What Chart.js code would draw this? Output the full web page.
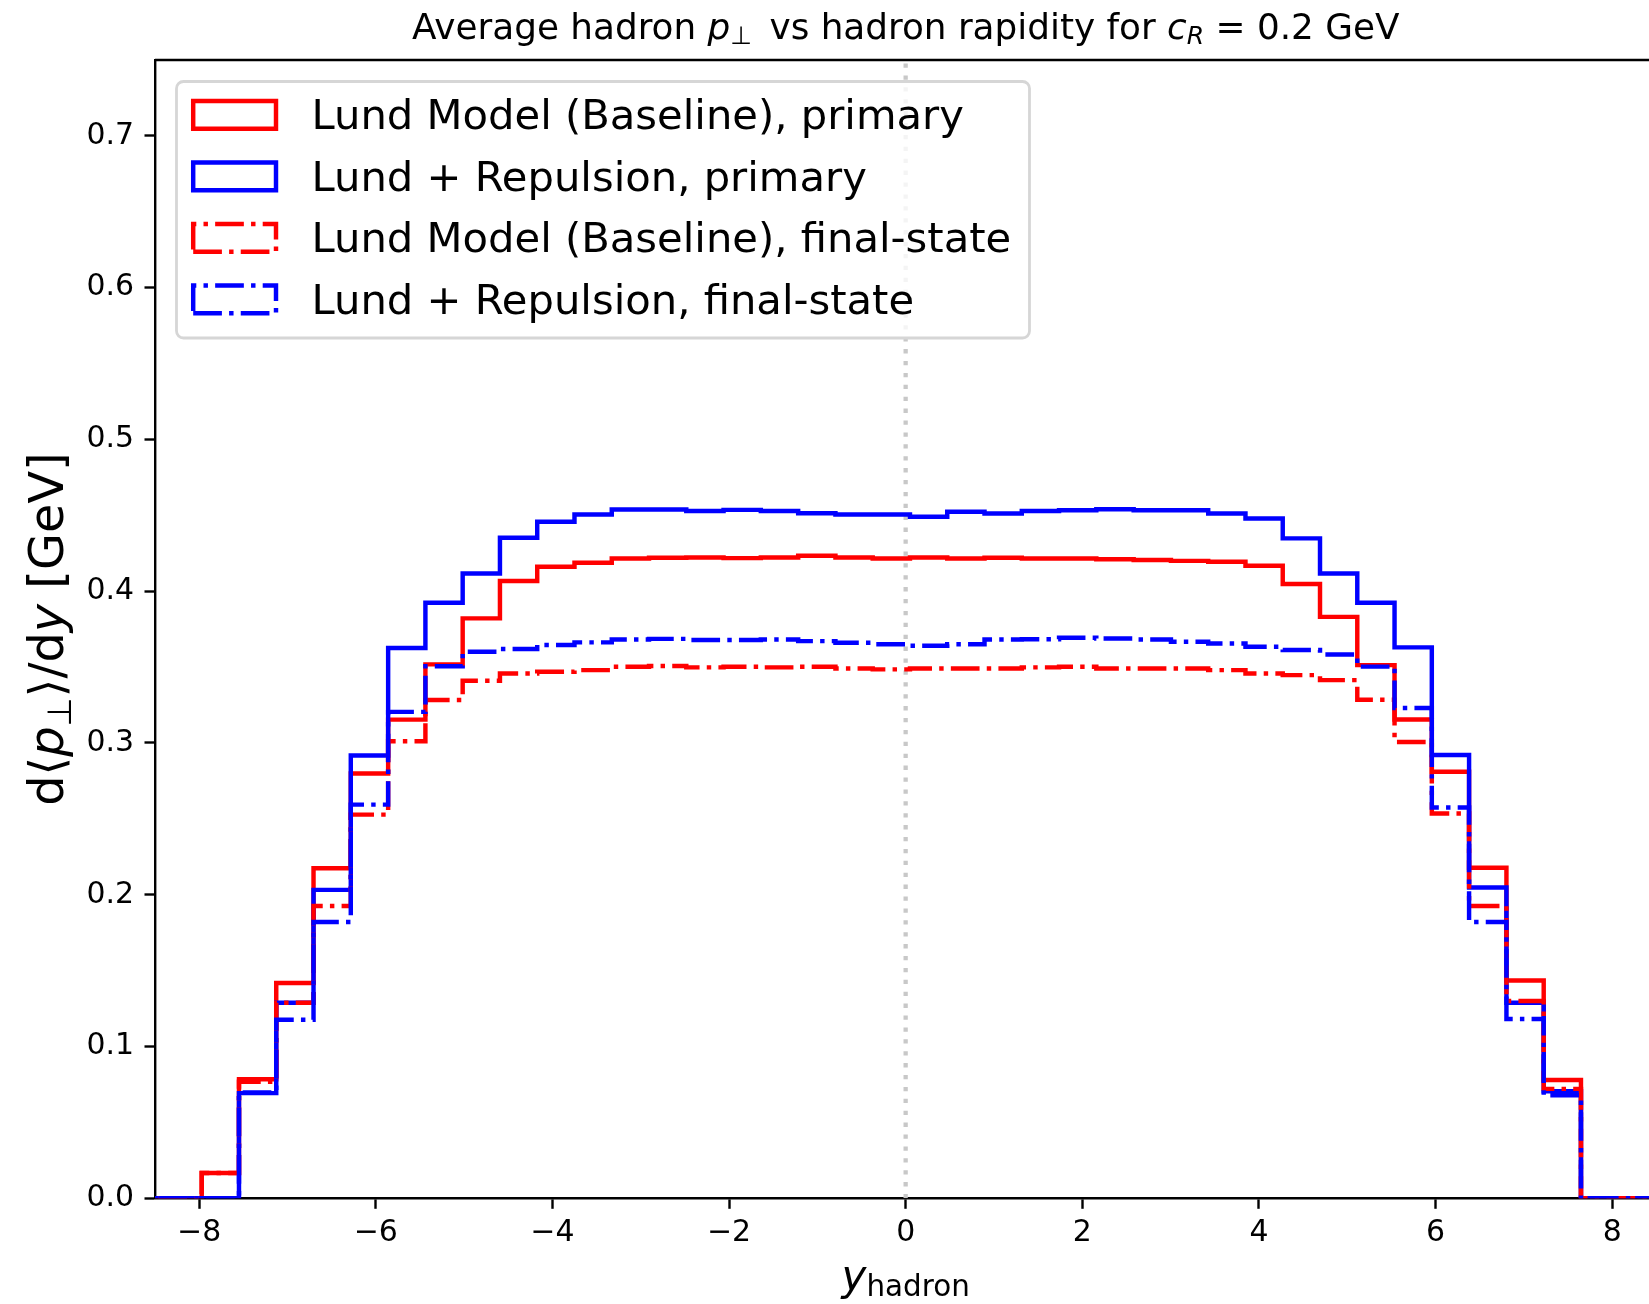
<!DOCTYPE html>
<html><head><meta charset="utf-8">
<script src="https://cdn.jsdelivr.net/npm/chart.js@4.4.1/dist/chart.umd.min.js"></script>
<style>
html,body{margin:0;padding:0;overflow:hidden;background:#fff;width:1649px;height:1304px;}
#wrap{position:relative;width:1700px;height:1304px;}
canvas{position:absolute;left:0;top:0;}
svg{position:absolute;left:0;top:0;pointer-events:none;}
text{white-space:pre;}
</style></head><body>
<div id="wrap">
<canvas id="c" width="1700" height="1304"></canvas>
<svg id="ov" width="1700" height="1304" font-family="DejaVu Sans" fill="#000">
<text x="905.7" y="38.5" text-anchor="middle" font-size="35.8">Average hadron <tspan font-style="italic">p</tspan><tspan font-size="25" dy="5.5">⊥</tspan><tspan dy="-5.5" dx="6"> vs hadron rapidity for </tspan><tspan font-style="italic">c</tspan><tspan font-style="italic" font-size="25" dy="5.5">R</tspan><tspan dy="-5.5"> = 0.2 GeV</tspan></text>
<text transform="translate(63,629) rotate(-90)" text-anchor="middle" font-size="47.8">d⟨<tspan font-style="italic">p</tspan><tspan font-size="33.5" dy="7.5">⊥</tspan><tspan dy="-7.5">⟩/d</tspan><tspan font-style="italic">y</tspan> [GeV]</text>
<text x="905.7" y="1290" text-anchor="middle" font-size="42"><tspan font-style="italic">y</tspan><tspan font-size="29.4" dy="6">hadron</tspan></text>
<g id="legend"></g>
</svg>
</div>
<script>
// ---- data ----
const binEdges = [-7.971,-7.549,-7.127,-6.705,-6.283,-5.860,-5.438,-5.016,-4.594,-4.172,-3.750,-3.328,-2.906,-2.484,-2.062,-1.640,-1.217,-0.795,-0.373,0.049,0.471,0.893,1.315,1.737,2.159,2.582,3.004,3.426,3.848,4.270,4.692,5.114,5.536,5.958,6.380,6.803,7.225,7.647];
const redPrimary = [0.0167,0.0785,0.1418,0.2174,0.2799,0.3154,0.3518,0.3821,0.4067,0.4161,0.4187,0.4216,0.4220,0.4222,0.4218,0.4222,0.4233,0.4222,0.4216,0.4222,0.4216,0.4220,0.4216,0.4216,0.4211,0.4205,0.4200,0.4194,0.4168,0.4047,0.3831,0.3513,0.3155,0.2811,0.2178,0.1435,0.0780];
const bluePrimary = [0,0.0693,0.1288,0.2032,0.2917,0.3626,0.3924,0.4117,0.4352,0.4457,0.4506,0.4539,0.4539,0.4529,0.4536,0.4528,0.4513,0.4506,0.4506,0.4490,0.4523,0.4512,0.4528,0.4534,0.4540,0.4534,0.4534,0.4512,0.4479,0.4348,0.4117,0.3924,0.3630,0.2921,0.2048,0.1288,0.0705];
const redFinal = [0.0167,0.0768,0.1288,0.1926,0.2528,0.3012,0.3283,0.3410,0.3458,0.3469,0.3480,0.3502,0.3507,0.3498,0.3502,0.3498,0.3502,0.3491,0.3485,0.3491,0.3491,0.3491,0.3498,0.3502,0.3491,0.3491,0.3491,0.3480,0.3458,0.3447,0.3414,0.3285,0.3006,0.2535,0.1926,0.1300,0.0721];
const blueFinal = [0,0.0698,0.1177,0.1820,0.2594,0.3205,0.3505,0.3601,0.3619,0.3646,0.3663,0.3682,0.3686,0.3678,0.3678,0.3682,0.3671,0.3660,0.3651,0.3640,0.3651,0.3682,0.3684,0.3693,0.3688,0.3682,0.3667,0.3656,0.3634,0.3612,0.3583,0.3503,0.3230,0.2575,0.1820,0.1182,0.0679];
const seriesLabels = ['Lund Model (Baseline), primary','Lund + Repulsion, primary','Lund Model (Baseline), final-state','Lund + Repulsion, final-state'];
const xTicks = [-8,-6,-4,-2,0,2,4,6,8];
const yTicks = [0.0,0.1,0.2,0.3,0.4,0.5,0.6,0.7];
const xLimits = [-8.5, 8.5];
const yLimits = [0, 0.75];
const histRange = [-9, 9];
const refLineX = 0;

// ---- styles ----
const LW = 4.45;
const DASHDOT = [28.7, 7.2, 4.45, 7.2];
const RED = '#ff0000', BLUE = '#0000ff';

function stepPoints(values){
  const pts = [{x: histRange[0], y: 0}];
  values.forEach((v, i) => pts.push({x: binEdges[i], y: v}));
  pts.push({x: binEdges[binEdges.length - 1], y: 0});
  pts.push({x: histRange[1], y: 0});
  return pts;
}
function histDataset(label, values, color, dashed, order){
  return {label, data: stepPoints(values), borderColor: color, borderWidth: LW,
    borderDash: dashed ? DASHDOT : [], stepped: 'before', pointRadius: 0, fill: false,
    borderJoinStyle: 'miter', borderCapStyle: 'butt', order};
}

const CANVAS_H = 1304, CANVAS_W = 1700;
const PLOT_LEFT = 155, PLOT_TOP = 60, PLOT_RIGHT = 1656.3, PLOT_BOTTOM = 1198.3;
const SPINE_W = 2.4, TICK_LEN = 10.5;

const framePlugin = {
  id: 'frame',
  afterDraw(chart){
    const {ctx, chartArea: a} = chart;
    ctx.save();
    ctx.strokeStyle = '#000'; ctx.lineWidth = SPINE_W;
    ctx.beginPath();
    ctx.moveTo(a.left, a.top); ctx.lineTo(a.right, a.top); ctx.lineTo(a.right, a.bottom);
    ctx.stroke();
    ctx.restore();
  }
};

const tickFont = {family: 'DejaVu Sans', size: 29.9};

new Chart(document.getElementById('c'), {
  type: 'line',
  data: {datasets: [
    {label: 'ref', data: [{x: refLineX, y: yLimits[0]}, {x: refLineX, y: yLimits[1]}], borderColor: '#c8c8c8',
      borderWidth: 4.3, borderDash: [4.3, 7.6], pointRadius: 0, order: 9},
    histDataset(seriesLabels[0], redPrimary, RED, false, 4),
    histDataset(seriesLabels[1], bluePrimary, BLUE, false, 3),
    histDataset(seriesLabels[2], redFinal, RED, true, 2),
    histDataset(seriesLabels[3], blueFinal, BLUE, true, 1)
  ]},
  options: {
    responsive: false, animation: false, devicePixelRatio: 1,
    layout: {padding: {left: 0, top: PLOT_TOP, right: CANVAS_W - PLOT_RIGHT, bottom: 0}},
    plugins: {legend: {display: false}, tooltip: {enabled: false}, title: {display: false}},
    scales: {
      x: {type: 'linear', position: 'bottom', min: xLimits[0], max: xLimits[1], z: 1,
        afterFit(s){ s.height = CANVAS_H - PLOT_BOTTOM; },
        afterBuildTicks(s){ s.ticks = xTicks.map(v => ({value: v})); },
        grid: {drawOnChartArea: false, drawTicks: true, tickLength: TICK_LEN, tickWidth: SPINE_W, tickColor: '#000'},
        border: {display: true, color: '#000', width: SPINE_W},
        ticks: {font: tickFont, color: '#000', padding: 6, maxRotation: 0, autoSkip: false,
          callback: v => (v < 0 ? '\u2212' : '') + Math.abs(v)}
      },
      y: {type: 'linear', position: 'left', min: yLimits[0], max: yLimits[1], z: 1,
        afterFit(s){ s.width = PLOT_LEFT; },
        afterBuildTicks(s){ s.ticks = yTicks.map(v => ({value: v})); },
        grid: {drawOnChartArea: false, drawTicks: true, tickLength: TICK_LEN, tickWidth: SPINE_W, tickColor: '#000'},
        border: {display: true, color: '#000', width: SPINE_W},
        ticks: {font: tickFont, color: '#000', padding: 10.5, autoSkip: false,
          callback: v => v.toFixed(1)}
      }
    }
  },
  plugins: [framePlugin]
});

// ---- legend (SVG overlay) ----
const NS = 'http://www.w3.org/2000/svg';
function el(tag, attrs, parent){ const e = document.createElementNS(NS, tag); for (const k in attrs) e.setAttribute(k, attrs[k]); parent.appendChild(e); return e; }
const lg = document.getElementById('legend');
el('rect', {x: 176.5, y: 81.5, width: 853, height: 256.5, rx: 7, ry: 7, fill: 'rgba(255,255,255,0.8)', stroke: '#d6d6d6', 'stroke-width': 2.8}, lg);
const legendColors = [RED, BLUE, RED, BLUE];
const legendDashed = [false, false, true, true];
seriesLabels.forEach((lab, i) => {
  const base = 129.3 + i * 61.5;
  const top = base - 28.3, bot = base - 0.6, l = 193.2, r = 276;
  el('path', {d: `M${l},${bot} L${r},${bot} L${r},${top} L${l},${top} Z`, fill: 'none', stroke: legendColors[i],
    'stroke-width': LW, 'stroke-linejoin': 'miter', 'stroke-dasharray': legendDashed[i] ? DASHDOT.join(' ') : 'none'}, lg);
  const t = el('text', {x: 311.5, y: base, 'font-size': 41.7}, lg);
  t.textContent = lab;
});
</script>
</body></html>
